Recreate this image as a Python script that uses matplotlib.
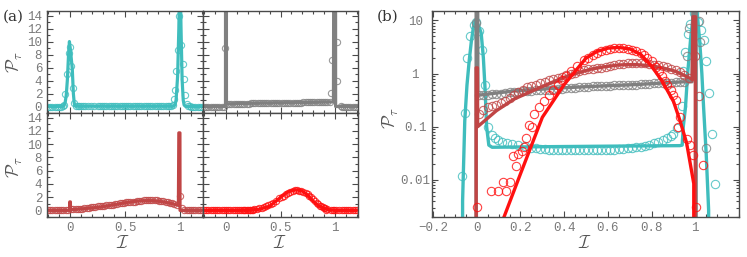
import matplotlib.pyplot as plt
from matplotlib.ticker import MultipleLocator, LogLocator, NullFormatter

# ---- data ----
# teal system
teal_line_x = [-0.20, -0.066, -0.065, -0.055, -0.045, -0.035, -0.025, -0.015, -0.006, 0.003, 0.012, 0.020,
               0.030, 0.038, 0.045, 0.055, 0.07, 0.30, 0.60, 0.93, 0.940, 0.945, 0.955, 0.965, 0.979, 0.990,
               1.000, 1.010, 1.020, 1.030, 1.038, 1.050, 1.061, 1.063, 1.20]
teal_line_y = [0, 0, 0.004, 0.13, 0.6, 1.7, 4.0, 7.6, 10.0, 8.8, 7.2, 5.8,
               2.0, 0.5, 0.1, 0.045, 0.041, 0.042, 0.043, 0.044, 0.045, 0.1, 0.23, 1.0, 4.7, 12.0,
               22.0, 12.0, 4.1, 1.0, 0.23, 0.03, 0.0027, 0, 0]
teal_pts_x = [-0.20, -0.18, -0.16, -0.14, -0.12, -0.10, -0.08,
              -0.066, -0.056, -0.044, -0.029, -0.012, -0.003, 0.010, 0.024, 0.038,
              0.053, 0.069, 0.084, 0.099, 0.115, 0.137, 0.16, 0.19, 0.22, 0.25,
              0.27, 0.29, 0.31, 0.33, 0.35, 0.37, 0.39, 0.41, 0.43, 0.45, 0.47, 0.49, 0.51, 0.53, 0.55, 0.57,
              0.59, 0.61, 0.63, 0.65, 0.67, 0.69, 0.71, 0.73, 0.75, 0.77, 0.79, 0.81, 0.83, 0.85, 0.87, 0.89,
              0.90, 0.916, 0.937, 0.945, 0.955, 0.965, 0.978, 0.993,
              1.013, 1.026, 1.038, 1.048, 1.062, 1.077, 1.089,
              1.10, 1.12, 1.14, 1.16, 1.18, 1.20]
teal_pts_y = [0, 0, 0, 0, 0, 0, 0,
              0.012, 0.18, 2.0, 5.0, 8.3, 9.2, 6.2, 2.8, 0.6,
              0.1, 0.07, 0.06, 0.056, 0.052, 0.05, 0.048, 0.045, 0.043, 0.040,
              0.039, 0.038, 0.038, 0.037, 0.037, 0.037, 0.036, 0.036, 0.036, 0.036, 0.036, 0.036, 0.036, 0.036,
              0.036, 0.036, 0.037, 0.037, 0.037, 0.038, 0.038, 0.039, 0.040, 0.041, 0.042, 0.044, 0.046, 0.049,
              0.052, 0.055, 0.060, 0.066,
              0.072, 0.094, 0.25, 1.1, 2.5, 5.5, 8.7, 14.0,
              9.5, 6.5, 4.2, 1.7, 0.43, 0.073, 0.0083,
              0, 0, 0, 0, 0, 0]

# grey system
grey_line_x = [-0.20, -0.004, -0.003, 0.004, 0.005, 0.17, 0.40, 0.52, 0.73, 0.95, 0.985, 0.990, 1.004, 1.005, 1.20]
grey_line_y = [0, 0, 40.0, 40.0, 0.39, 0.47, 0.54, 0.57, 0.62, 0.70, 0.70, 40.0, 40.0, 0, 0]
grey_pts_x = [-0.20, -0.18, -0.16, -0.14, -0.12, -0.10, -0.08, -0.06, -0.04, -0.02, -0.005,
              0.01, 0.03, 0.05, 0.07, 0.09, 0.11, 0.13, 0.15, 0.17, 0.19, 0.21, 0.23, 0.25, 0.27, 0.29, 0.31,
              0.33, 0.35, 0.37, 0.39, 0.41, 0.43, 0.45, 0.47, 0.49, 0.51, 0.53, 0.55, 0.57, 0.59, 0.61, 0.63,
              0.65, 0.67, 0.69, 0.71, 0.73, 0.75, 0.77, 0.79, 0.81, 0.83, 0.85, 0.87, 0.89, 0.91, 0.93, 0.95,
              0.96, 0.973, 1.018, 1.022, 1.05,
              1.06, 1.08, 1.10, 1.12, 1.14, 1.16, 1.18, 1.20]
grey_pts_y = [0, 0, 0, 0, 0, 0, 0, 0, 0, 0, 9.0,
              0.39, 0.40, 0.40, 0.41, 0.42, 0.42, 0.43, 0.44, 0.45, 0.45, 0.46, 0.47, 0.47, 0.48, 0.49, 0.49,
              0.50, 0.51, 0.51, 0.52, 0.53, 0.53, 0.54, 0.55, 0.55, 0.56, 0.57, 0.57, 0.58, 0.58, 0.59, 0.60,
              0.60, 0.61, 0.61, 0.62, 0.62, 0.63, 0.64, 0.64, 0.65, 0.65, 0.66, 0.67, 0.67, 0.68, 0.69, 0.70,
              2.1, 7.2, 9.9, 4.0, 0.039,
              0, 0, 0, 0, 0, 0, 0, 0]

# dark red system
dred_line_x = [-0.20, -0.004, -0.003, 0.003, 0.004, 0.09, 0.17, 0.244, 0.32, 0.40, 0.46, 0.52, 0.58, 0.65,
               0.72, 0.80, 0.86, 0.91, 0.95, 0.986, 0.990, 1.000, 1.001, 1.20]
dred_line_y = [0, 0, 1.28, 1.28, 0.10, 0.20, 0.33, 0.45, 0.62, 0.85, 1.02, 1.20, 1.33, 1.45,
               1.48, 1.40, 1.25, 1.10, 0.92, 0.77, 11.7, 11.7, 0, 0]
dred_pts_x = [-0.20, -0.18, -0.16, -0.14, -0.12, -0.10, -0.08, -0.06, -0.04, -0.02,
              0.01, 0.03, 0.05, 0.07, 0.09, 0.11, 0.13, 0.15, 0.17, 0.19, 0.21, 0.23, 0.25, 0.27, 0.29, 0.31,
              0.33, 0.35, 0.37, 0.39, 0.41, 0.43, 0.45, 0.47, 0.49, 0.51, 0.53, 0.55, 0.57, 0.59, 0.61, 0.63,
              0.65, 0.67, 0.69, 0.71, 0.73, 0.75, 0.77, 0.79, 0.81, 0.83, 0.85, 0.87, 0.89, 0.91, 0.93, 0.95,
              0.97, 1.0, 1.016,
              1.04, 1.06, 1.08, 1.10, 1.12, 1.14, 1.16, 1.18, 1.20]
dred_pts_y = [0, 0, 0, 0, 0, 0, 0, 0, 0, 0,
              0.17, 0.21, 0.23, 0.25, 0.26, 0.28, 0.31, 0.35, 0.40, 0.45, 0.50, 0.55, 0.59, 0.62, 0.66, 0.70,
              0.74, 0.78, 0.82, 0.87, 0.92, 0.98, 1.04, 1.10, 1.16, 1.20, 1.23, 1.26, 1.29, 1.33, 1.38, 1.43,
              1.48, 1.52, 1.56, 1.58, 1.60, 1.58, 1.55, 1.51, 1.47, 1.42, 1.37, 1.31, 1.24, 1.15, 1.05, 0.93,
              0.82, 2.1, 0.37,
              0, 0, 0, 0, 0, 0, 0, 0, 0]

# bright red system
red_line_x = [-0.20, 0.10, 0.118, 0.20, 0.30, 0.40, 0.50, 0.55, 0.60, 0.65, 0.70, 0.75, 0.80, 0.85,
              0.90, 0.93, 0.96, 0.993, 0.996, 1.20]
red_line_y = [0, 0, 0.0017, 0.013, 0.15, 0.62, 1.95, 2.6, 3.0, 3.1, 2.9, 2.3, 1.38, 0.7,
              0.3, 0.13, 0.05, 0.0085, 0, 0]
red_pts_x = [-0.20, -0.18, -0.16, -0.14, -0.12, -0.10, -0.08, -0.06, -0.04, -0.02,
             0.003, 0.02, 0.04, 0.066, 0.08, 0.099, 0.122, 0.134, 0.153, 0.165,
             0.179, 0.19, 0.205, 0.217, 0.225, 0.237, 0.252, 0.26, 0.283, 0.306,
             0.33, 0.35, 0.37, 0.39, 0.41, 0.43, 0.46, 0.49, 0.51, 0.53,
             0.55, 0.57, 0.59, 0.61, 0.63, 0.65, 0.67, 0.69, 0.71, 0.73,
             0.75, 0.763, 0.78, 0.80, 0.82, 0.835, 0.847, 0.86, 0.87, 0.89,
             0.90, 0.91, 0.92, 0.93, 0.963, 0.978, 0.988, 1.005, 1.034,
             1.06, 1.08, 1.10, 1.12, 1.14, 1.16, 1.18, 1.20]
red_pts_y = [0, 0, 0, 0, 0, 0, 0, 0, 0, 0,
             0.0031, 0, 0, 0.0061, 0, 0.0061, 0.0092, 0.0061, 0.0092, 0.028,
             0.018, 0.031, 0.035, 0.041, 0.06, 0.107, 0.10, 0.17, 0.23, 0.30,
             0.40, 0.50, 0.62, 0.75, 0.90, 1.11, 1.38, 1.80, 2.00, 2.20,
             2.45, 2.65, 2.80, 2.95, 3.05, 3.06, 3.00, 2.90, 2.78, 2.62,
             2.40, 2.20, 1.95, 1.70, 1.35, 1.10, 0.90, 0.72, 0.62, 0.50,
             0.40, 0.32, 0.10, 0.15, 0.058, 0.045, 0.029, 0.0031, 0.019,
             0, 0, 0, 0, 0, 0, 0, 0]

TEAL = '#3fbdbd'
GREY = '#808080'
DRED = '#c04545'
RED = '#ff1010'

series = [
    (teal_line_x, teal_line_y, teal_pts_x, teal_pts_y, TEAL),
    (grey_line_x, grey_line_y, grey_pts_x, grey_pts_y, GREY),
    (dred_line_x, dred_line_y, dred_pts_x, dred_pts_y, DRED),
    (red_line_x, red_line_y, red_pts_x, red_pts_y, RED),
]

plt.rcParams['font.family'] = ['Liberation Mono', 'DejaVu Sans Mono']
plt.rcParams['mathtext.fontset'] = 'cm'

W, H = 747, 257
SPINE = '#4a4a4a'
LABEL = '#7a7a7a'


def box(x0, y0, x1, y1):
    # pixel box (top-left origin) -> figure fraction rect
    return [x0 / W, 1 - y1 / H, (x1 - x0) / W, (y1 - y0) / H]


def style(ax):
    for s in ax.spines.values():
        s.set_color(SPINE)
        s.set_linewidth(1.0)
    ax.tick_params(which='both', direction='in', top=True, right=True, color=SPINE,
                   labelcolor=LABEL, labelsize=9, width=0.8)
    ax.tick_params(which='major', length=4.5)
    ax.tick_params(which='minor', length=2.5)


def draw(ax, line_x, line_y, pts_x, pts_y, color, ms, lw):
    ax.plot(pts_x, pts_y, 'o', mfc='none', mec=color, mew=0.8, ms=ms, alpha=0.8)
    ax.plot(line_x, line_y, '-', color=color, lw=lw, solid_capstyle='round', solid_joinstyle='round')


fig = plt.figure(figsize=(W / 100, H / 100), dpi=100)

# ---- panel (a): one system per small panel ----
rects = [box(47, 11, 203, 113), box(203, 11, 358, 113), box(47, 113, 203, 217), box(203, 113, 358, 217)]
for i, (rect, s) in enumerate(zip(rects, series)):
    ax = fig.add_axes(rect)
    draw(ax, *s, ms=4.5, lw=2.3)
    ax.set_xlim(-0.21, 1.21)
    ax.set_ylim(-1.0, 14.7)
    ax.xaxis.set_major_locator(MultipleLocator(0.5))
    ax.xaxis.set_minor_locator(MultipleLocator(0.1))
    ax.yaxis.set_major_locator(MultipleLocator(2))
    ax.yaxis.set_minor_locator(MultipleLocator(1))
    ax.set_xticks([0, 0.5, 1], ['0', '0.5', '1'])
    style(ax)
    ax.tick_params(labelleft=(i % 2 == 0), labelbottom=(i >= 2))

# ---- panel (b): all systems on a log axis ----
axb = fig.add_axes(box(432, 11, 739, 217))
for s in series:
    draw(axb, *s, ms=6, lw=2.4)
axb.set_yscale('log')
axb.set_xlim(-0.205, 1.2)
axb.set_ylim(0.002, 15)
axb.set_xticks([-0.2, 0, 0.2, 0.4, 0.6, 0.8, 1.0], ['\u22120.2', '0', '0.2', '0.4', '0.6', '0.8', '1'])
axb.xaxis.set_minor_locator(MultipleLocator(0.05))
axb.set_yticks([0.01, 0.1, 1, 10], ['0.01', '0.1', '1', '10'])
axb.yaxis.set_minor_locator(LogLocator(base=10, subs=range(2, 10)))
axb.yaxis.set_minor_formatter(NullFormatter())
style(axb)
axb.tick_params(axis='y', which='major', pad=12)
for lab in axb.get_yticklabels():
    lab.set_horizontalalignment('center')

# ---- labels ----
for (px, py) in [(15, 62), (15, 167), (391, 118)]:
    fig.text(px / W, 1 - py / H, r'$\mathcal{P}_\tau$', rotation=90, ha='center', va='center',
             fontsize=13, color='#555555')
for (px, py) in [(123, 244), (280, 244), (585, 244)]:
    fig.text(px / W, 1 - py / H, r'$\mathcal{I}$', ha='center', va='center', fontsize=13, color='#555555')
fig.text(3 / W, 1 - 17 / H, '(a)', family='DejaVu Serif', fontsize=11, color='#333333', va='center')
fig.text(377 / W, 1 - 17 / H, '(b)', family='DejaVu Serif', fontsize=11, color='#333333', va='center')

fig.savefig('out.png', dpi=100)
